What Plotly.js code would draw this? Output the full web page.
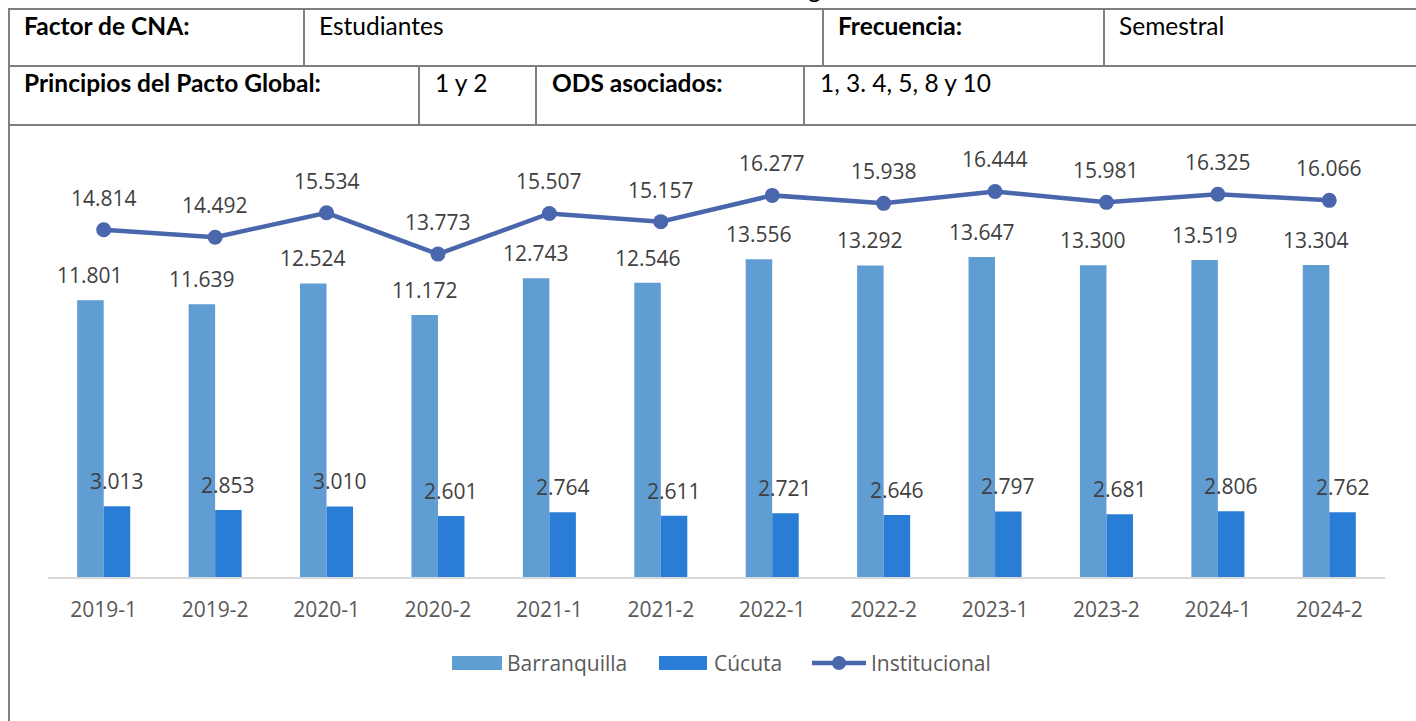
<!DOCTYPE html>
<html>
<head>
<meta charset="utf-8">
<script src="https://cdn.plot.ly/plotly-3.0.1.min.js"></script>
<style>
  html, body { margin: 0; padding: 0; background: #ffffff; }
  #wrap { position: relative; width: 1416px; height: 721px; overflow: hidden; }
  #chart { position: absolute; left: 0; top: 0; width: 1416px; height: 721px; }
  .ln { position: absolute; background: #7f7f7f; }
  .tx { position: absolute; font-family: Lato, sans-serif; font-size: 24.5px; color: #000; white-space: nowrap; line-height: normal; }
  .b { font-weight: bold; }
</style>
</head>
<body>
<div id="wrap">
  <div id="chart"></div>
</div>
<script>
// ---- data ----
const categories = ['2019-1','2019-2','2020-1','2020-2','2021-1','2021-2','2022-1','2022-2','2023-1','2023-2','2024-1','2024-2'];
const barranquilla = [11801,11639,12524,11172,12743,12546,13556,13292,13647,13300,13519,13304];
const cucuta = [3013,2853,3010,2601,2764,2611,2721,2646,2797,2681,2806,2762];
const institucional = [14814,14492,15534,13773,15507,15157,16277,15938,16444,15981,16325,16066];
const seriesNames = ['Barranquilla','Cúcuta','Institucional'];

const tableRow1 = [['Factor de CNA:', true], ['Estudiantes', false], ['Frecuencia:', true], ['Semestral', false]];
const tableRow2 = [['Principios del Pacto Global:', true], ['1 y 2', false], ['ODS asociados:', true], ['1, 3. 4, 5, 8 y 10', false]];

// ---- styles ----
const colors = ['#5f9dd3', '#2a7dd6', '#4a66ac'];
const W = 1416, H = 721;
const M = {l: 48, r: 31, t: 155, b: 144};
const plotW = W - M.l - M.r, plotH = H - M.t - M.b;
const fmt = n => String(n).replace(/\B(?=(\d{3})+(?!\d))/g, '.');
const px = x => (x - M.l) / plotW;
const py = y => (H - M.b - y) / plotH;

// ---- table overlay ----
const wrap = document.getElementById('wrap');
function line(x, y, w, h) {
  const d = document.createElement('div');
  d.className = 'ln';
  d.style.left = x + 'px'; d.style.top = y + 'px';
  d.style.width = w + 'px'; d.style.height = h + 'px';
  wrap.appendChild(d);
}
function text(t, x, y, bold) {
  const d = document.createElement('div');
  d.className = 'tx' + (bold ? ' b' : '');
  d.style.left = x + 'px'; d.style.top = y + 'px';
  d.textContent = t;
  wrap.appendChild(d);
}
// descender of the title line above (cut off in the original)
text('g', 808, -26, false);
line(8, 8, W - 8, 2);
line(8, 65, W - 8, 2);
line(8, 124, W - 8, 2);
line(8, 8, 2, H - 8);
[303, 822, 1103].forEach(x => line(x, 8, 2, 59));
[418, 535, 803].forEach(x => line(x, 65, 2, 61));
const row1X = [24, 319, 838, 1119];
const row2X = [24, 435, 552, 820];
tableRow1.forEach((c, i) => text(c[0], row1X[i], 11, c[1]));
tableRow2.forEach((c, i) => text(c[0], row2X[i], 68, c[1]));

// ---- chart ----
const traces = [
  {type: 'bar', name: seriesNames[0], x: categories, y: barranquilla, marker: {color: colors[0]}, hoverinfo: 'skip'},
  {type: 'bar', name: seriesNames[1], x: categories, y: cucuta, marker: {color: colors[1]}, hoverinfo: 'skip'},
  {type: 'scatter', mode: 'lines+markers', name: seriesNames[2], x: categories, y: institucional,
   line: {color: colors[2], width: 4.5}, marker: {color: colors[2], size: 15}, hoverinfo: 'skip'}
];

const catW = plotW / categories.length;
const bargap = 0.524;
const barW = catW * (1 - bargap) / 2;
const labelFont = {family: 'Open Sans, sans-serif', size: 21, color: '#404040'};
const annotations = [];
categories.forEach((c, i) => {
  annotations.push({x: c, y: barranquilla[i], xref: 'x', yref: 'y', text: fmt(barranquilla[i]), showarrow: false,
    xshift: -barW / 2, yshift: 25, yanchor: 'middle', font: labelFont});
  annotations.push({x: c, y: cucuta[i], xref: 'x', yref: 'y', text: fmt(cucuta[i]), showarrow: false,
    xshift: barW / 2, yshift: 25, yanchor: 'middle', font: labelFont});
  annotations.push({x: c, y: institucional[i], xref: 'x', yref: 'y', text: fmt(institucional[i]), showarrow: false,
    yshift: 32, yanchor: 'middle', font: labelFont});
});

// custom legend
const legFont = {family: 'Open Sans, sans-serif', size: 21, color: '#595959'};
const legY = 663;
const shapes = [
  {type: 'rect', xref: 'paper', yref: 'paper', x0: px(452), x1: px(502), y0: py(656), y1: py(670), fillcolor: colors[0], line: {width: 0}},
  {type: 'rect', xref: 'paper', yref: 'paper', x0: px(659), x1: px(707), y0: py(656), y1: py(670), fillcolor: colors[1], line: {width: 0}},
  {type: 'line', xref: 'paper', yref: 'paper', x0: px(812), x1: px(866), y0: py(legY), y1: py(legY), line: {color: colors[2], width: 4.5}},
  {type: 'circle', xref: 'paper', yref: 'paper', x0: px(832), x1: px(846), y0: py(legY - 7), y1: py(legY + 7), fillcolor: colors[2], line: {width: 0}}
];
[[seriesNames[0], 507], [seriesNames[1], 714], [seriesNames[2], 871]].forEach(([n, x]) => {
  annotations.push({xref: 'paper', yref: 'paper', x: px(x), y: py(legY), xanchor: 'left', yanchor: 'middle',
    text: n, showarrow: false, font: legFont, xshift: -2});
});

const layout = {
  width: W, height: H, autosize: false,
  margin: M,
  paper_bgcolor: 'rgba(0,0,0,0)', plot_bgcolor: 'rgba(0,0,0,0)',
  barmode: 'group', bargap: bargap, bargroupgap: 0,
  showlegend: false,
  xaxis: {type: 'category', range: [-0.5, categories.length - 0.5], autorange: false,
    showline: true, linecolor: '#d9d9d9', linewidth: 1.5, ticks: '', showgrid: false,
    tickfont: {family: 'Open Sans, sans-serif', size: 21, color: '#595959'}, ticklabelstandoff: 13, fixedrange: true},
  yaxis: {range: [0, 18000], visible: false, showgrid: false, zeroline: false, fixedrange: true},
  annotations: annotations,
  shapes: shapes
};

Plotly.newPlot('chart', traces, layout, {displayModeBar: false, staticPlot: true});
</script>
</body>
</html>
